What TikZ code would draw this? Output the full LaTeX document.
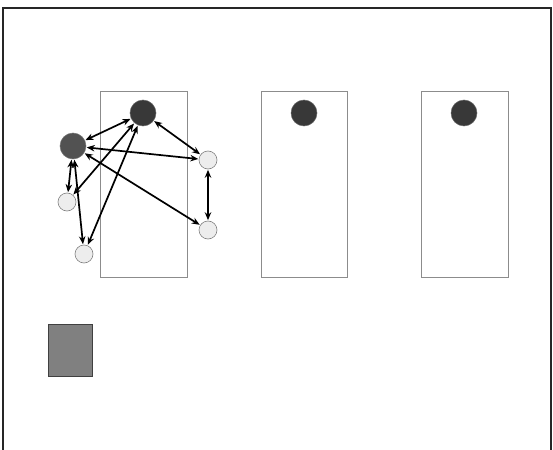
\documentclass[tikz,border=0pt]{standalone}
\usetikzlibrary{arrows.meta}
\begin{document}
\begin{tikzpicture}[x=1pt,y=-1pt,
  frame/.style={draw=black!85,line width=2pt},
  slot/.style={draw=black!45,line width=0.8pt},
  bigdot/.style={circle,fill=black!78,draw=black!60,line width=0.5pt,minimum size=26pt,inner sep=0pt},
  leftdot/.style={circle,fill=black!68,draw=black!55,line width=0.5pt,minimum size=26pt,inner sep=0pt},
  smalldot/.style={circle,fill=black!7,draw=black!50,line width=0.6pt,minimum size=18pt,inner sep=0pt},
  link/.style={{Stealth[length=8pt,width=6.5pt]}-{Stealth[length=8pt,width=6.5pt]},line width=1.7pt,black,shorten <=0.5pt,shorten >=0.5pt},
  block/.style={fill=black!50,draw=black!75,line width=0.8pt}]
\useasboundingbox (0,0) rectangle (553,449);
\fill[white] (0,0) rectangle (553,449);
\draw[frame] (3,460) -- (3,8) -- (551,8) -- (551,460);
\draw[slot] (100,91) rectangle (187,277);
\draw[slot] (261,91) rectangle (347,277);
\draw[slot] (421,91) rectangle (508,277);
\node[bigdot] (t1) at (143,113) {};
\node[bigdot] (t2) at (304,113) {};
\node[bigdot] (t3) at (464,113) {};
\node[leftdot] (l) at (73,146) {};
\node[smalldot] (r1) at (208,160) {};
\node[smalldot] (r2) at (208,230) {};
\node[smalldot] (a) at (67,202) {};
\node[smalldot] (b) at (84,254) {};
\draw[link] (l) -- (t1);
\draw[link] (t1) -- (r1);
\draw[link] (l) -- (r1);
\draw[link] (l) -- (r2);
\draw[link] (r1) -- (r2);
\draw[link] (l) -- (a);
\draw[link] (l) -- (b);
\draw[link] (t1) -- (a);
\draw[link] (t1) -- (b);
\draw[block] (48,324) rectangle (92,376);
\end{tikzpicture}
\end{document}
